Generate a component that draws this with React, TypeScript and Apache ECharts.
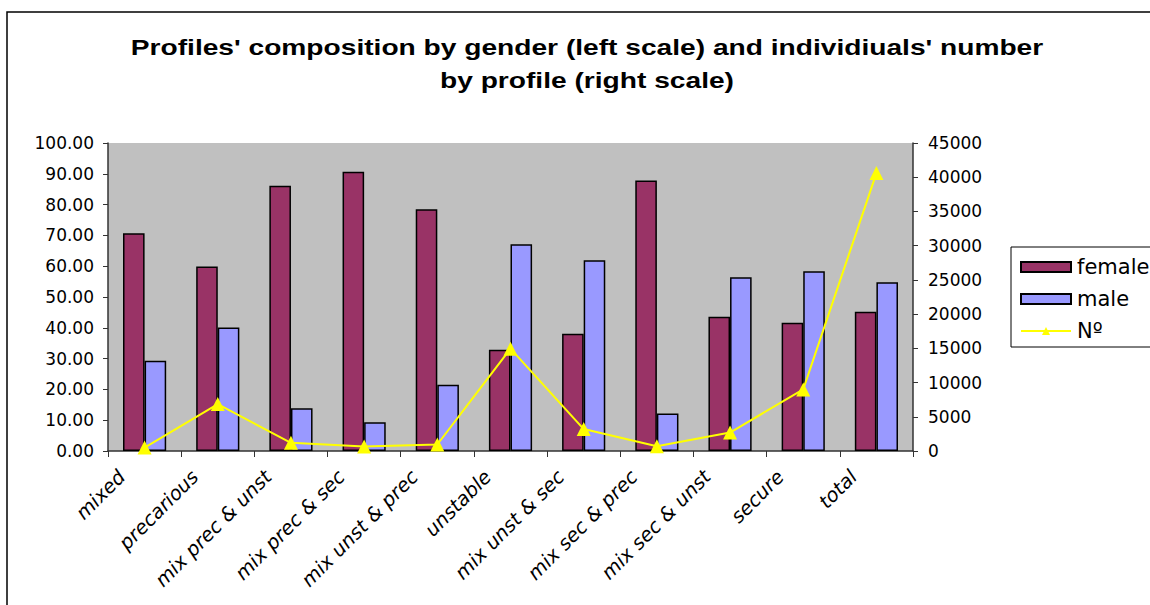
import React, { useEffect, useRef } from "react";
import * as echarts from "echarts";

const categories = [
  "mixed",
  "precarious",
  "mix prec & unst",
  "mix prec & sec",
  "mix unst & prec",
  "unstable",
  "mix unst & sec",
  "mix sec & prec",
  "mix sec & unst",
  "secure",
  "total",
];
const female = [70.7, 59.9, 86.1, 90.7, 78.5, 32.9, 38.1, 87.8, 43.6, 41.6, 45.2];
const male = [29.3, 40.1, 13.9, 9.3, 21.5, 67.1, 61.9, 12.2, 56.4, 58.4, 54.8];
const counts = [500, 6850, 1200, 650, 950, 14950, 3200, 700, 2700, 9000, 40600];

const titleLines = [
  "Profiles' composition by gender (left scale) and individiuals' number",
  "by profile (right scale)",
];

const leftTicks = { min: 0, max: 100, interval: 10 };
const rightTicks = { min: 0, max: 45000, interval: 5000 };

const ARIAL = "'Liberation Sans', Arial, sans-serif";
const WIDE = "'DejaVu Sans', Verdana, sans-serif";

export default function App() {
  const ref = useRef<HTMLDivElement>(null);
  useEffect(() => {
    if (!ref.current) return;
    const chart = echarts.init(ref.current, null, { renderer: "svg" });
    chart.setOption({
      animation: false,
      backgroundColor: "#ffffff",
      textStyle: { fontFamily: WIDE },
      graphic: [
        {
          type: "rect",
          shape: { x: 7, y: 12, width: 1400, height: 800 },
          style: { fill: "none", stroke: "#000", lineWidth: 1.5 },
          silent: true,
          z: 100,
        },
        ...titleLines.map((t, i) => ({
          type: "text",
          x: 587,
          y: 47 + i * 33,
          scaleX: 1.28,
          style: {
            text: t,
            fontFamily: ARIAL,
            fontSize: 22,
            fontWeight: "bold",
            fill: "#000",
            align: "center",
            verticalAlign: "middle",
          },
        })),
      ],
      legend: {
        orient: "vertical",
        left: 1011,
        top: 247,
        padding: [8, 14, 4, 9],
        itemGap: 8,
        itemWidth: 50,
        itemHeight: 10,
        borderColor: "#000",
        borderWidth: 1,
        backgroundColor: "#fff",
        textStyle: { fontFamily: WIDE, fontSize: 21, lineHeight: 24, color: "#000", padding: [0, 0, 0, 1] },
        data: [
          { name: "female", icon: "rect" },
          { name: "male", icon: "rect" },
          { name: "Nº" },
        ],
      },
      grid: { left: 108, right: 287, top: 143, bottom: 154, show: true, backgroundColor: "#C0C0C0", borderWidth: 0 },
      xAxis: {
        type: "category",
        data: categories,
        boundaryGap: true,
        axisLine: { lineStyle: { color: "#333", width: 1.5 } },
        axisTick: { show: true, length: 6, lineStyle: { color: "#333" } },
        axisLabel: {
          interval: 0,
          rotate: 45,
          margin: 0,
          padding: [0, 32, 0, 0],
          fontFamily: WIDE,
          fontSize: 19.5,
          fontStyle: "italic",
          color: "#000",
        },
        splitLine: { show: false },
      },
      yAxis: [
        {
          type: "value",
          ...leftTicks,
          position: "left",
          axisLine: { show: true, lineStyle: { color: "#333", width: 1.5 } },
          axisTick: { show: true, length: 5, lineStyle: { color: "#333" } },
          splitLine: { show: false },
          axisLabel: {
            formatter: (v: number) => v.toFixed(2),
            fontFamily: WIDE,
            fontSize: 17,
            color: "#000",
            margin: 14,
          },
        },
        {
          type: "value",
          ...rightTicks,
          position: "right",
          axisLine: { show: true, lineStyle: { color: "#333", width: 1.5 } },
          axisTick: { show: true, length: 5, lineStyle: { color: "#333" } },
          splitLine: { show: false },
          axisLabel: {
            formatter: (v: number) => String(v),
            fontFamily: WIDE,
            fontSize: 17,
            color: "#000",
            margin: 15,
          },
        },
      ],
      series: [
        {
          name: "female",
          type: "bar",
          data: female,
          yAxisIndex: 0,
          barGap: "0%",
          barCategoryGap: "41%",
          itemStyle: { color: "#993366", borderColor: "#000", borderWidth: 1.5 },
        },
        {
          name: "male",
          type: "bar",
          data: male,
          yAxisIndex: 0,
          itemStyle: { color: "#9999FF", borderColor: "#000", borderWidth: 1.5 },
        },
        {
          name: "Nº",
          type: "line",
          data: counts,
          yAxisIndex: 1,
          symbol: "triangle",
          symbolSize: 14,
          lineStyle: { color: "#FFFF00", width: 2 },
          itemStyle: { color: "#FFFF00" },
          z: 5,
        },
      ],
    });
    return () => chart.dispose();
  }, []);
  return (
    <div style={{ position: "fixed", left: 0, top: 0, width: 1150, height: 605, overflow: "hidden", background: "#fff" }}>
      <div ref={ref} style={{ width: 1200, height: 605 }} />
    </div>
  );
}
